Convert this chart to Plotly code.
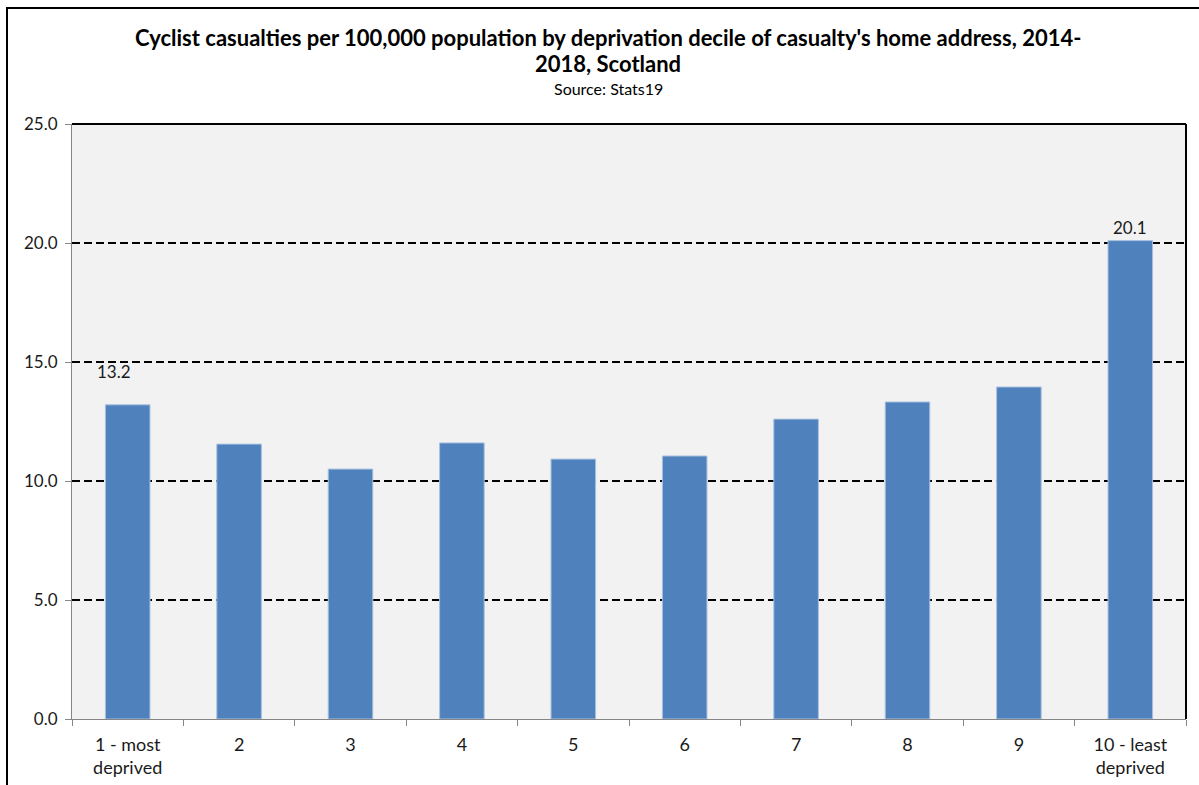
import plotly.graph_objects as go

categories = ["1 - most<br>deprived", "2", "3", "4", "5", "6", "7", "8", "9", "10 - least<br>deprived"]
values = [13.2, 11.55, 10.5, 11.6, 10.92, 11.05, 12.6, 13.32, 13.95, 20.1]
labelled = {0: "13.2", 9: "20.1"}
y_ticks = [0, 5, 10, 15, 20, 25]
y_tick_text = ["0.0", "5.0", "10.0", "15.0", "20.0", "25.0"]

FONT = "Lato, Carlito, Calibri, sans-serif"
T = 124
PH = 595

def py(pixel_y):
    # paper y from pixel y
    return 1 + (T - pixel_y) / PH

fig = go.Figure()
fig.add_trace(go.Bar(
    x=categories, y=values,
    marker=dict(color="#4F81BD", line=dict(color="#A9C1DF", width=1)),
    hoverinfo="x+y",
))

for i, txt in labelled.items():
    fig.add_annotation(x=categories[i], y=values[i], text=txt, showarrow=False,
                       yanchor="bottom", yshift=21 if i == 0 else 1,
                       xshift=-14 if i == 0 else 0,
                       font=dict(family=FONT, size=17, color="#1a1a1a"))

title_lines = [
    ("<b>Cyclist casualties per 100,000 population by deprivation decile of casualty's home address, 2014-</b>", 37, 22),
    ("<b>2018, Scotland</b>", 64, 22),
    ("Source: Stats19", 88, 16),
]
for txt, y, size in title_lines:
    fig.add_annotation(xref="paper", yref="paper", x=(608 - 72) / 1114, y=py(y),
                       text=txt, showarrow=False, xanchor="center", yanchor="middle",
                       font=dict(family=FONT, size=size, color="black"))

fig.update_layout(
    width=1199, height=785,
    margin=dict(l=72, r=13, t=124, b=66, autoexpand=False),
    paper_bgcolor="white", plot_bgcolor="#F2F2F2",
    bargap=0.6, showlegend=False,
    font=dict(family=FONT, size=17, color="#1a1a1a"),
    xaxis=dict(
        type="category", tickson="boundaries", ticks="outside", ticklen=6,
        tickcolor="#868686", showline=True, linecolor="#868686", linewidth=1,
        showgrid=False, tickfont=dict(size=18), fixedrange=True,
        ticklabelstandoff=9, automargin=False,
    ),
    yaxis=dict(
        range=[0, 25], tickvals=y_ticks, ticktext=y_tick_text,
        ticks="outside", ticklen=6, tickcolor="#868686",
        showline=True, linecolor="#868686", linewidth=1,
        showgrid=True, gridcolor="black", griddash="8px,4px", gridwidth=2,
        zeroline=False, tickfont=dict(size=17), fixedrange=True,
        ticklabelstandoff=4, automargin=False,
    ),
    shapes=[
        dict(type="line", xref="paper", yref="paper", x0=0, x1=1, y0=1, y1=1,
             line=dict(color="black", width=2)),
        dict(type="line", xref="paper", yref="paper", x0=1, x1=1, y0=0, y1=1,
             line=dict(color="black", width=2)),
        dict(type="rect", xref="paper", yref="paper",
             x0=-65/1114, x1=1.05, y0=-0.2, y1=1 + 116/595,
             line=dict(color="black", width=2), layer="below"),
    ],
)

fig.write_html("out.html")
